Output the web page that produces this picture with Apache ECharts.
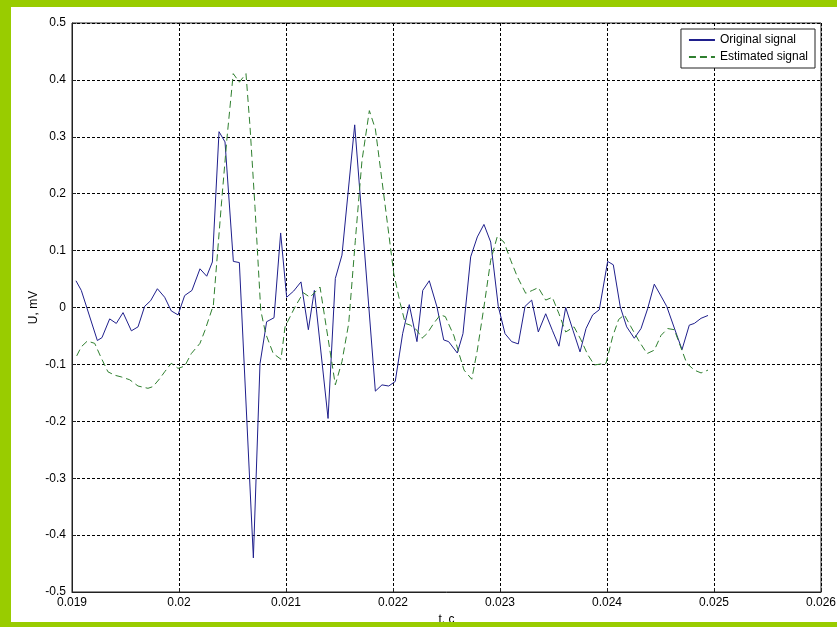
<html>
<head>
    <meta charset="utf-8">
    <title>Signal</title>
    <script src="https://cdn.jsdelivr.net/npm/echarts@6/dist/echarts.min.js"></script>
    <style>
        html, body { margin: 0; padding: 0; width: 837px; height: 627px; background: #fff; }
        #main { width: 837px; height: 627px; }
    </style>
</head>
<body>
<div id="main"></div>
<script type="text/javascript">
// original signal: time (s) and voltage (mV)
var tOrig = [0.019037,0.019087,0.019237,0.019280,0.019352,0.019414,0.019477,0.019555,0.019617,0.019679,
    0.019735,0.019798,0.019866,0.019928,0.019991,0.020053,0.020121,0.020196,0.020259,0.020312,
    0.020374,0.020430,0.020508,0.020564,0.020695,0.020757,0.020819,0.020888,0.020950,0.021006,
    0.021072,0.021140,0.021209,0.021265,0.021393,0.021461,0.021523,0.021642,0.021835,0.021897,
    0.021960,0.022021,0.022090,0.022152,0.022224,0.022278,0.022339,0.022411,0.022474,0.022520,
    0.022601,0.022654,0.022726,0.022788,0.022850,0.022913,0.022984,0.023047,0.023109,0.023171,
    0.023234,0.023296,0.023358,0.023427,0.023489,0.023551,0.023614,0.023682,0.023748,0.023804,
    0.023866,0.023928,0.024006,0.024059,0.024124,0.024184,0.024255,0.024318,0.024380,0.024442,
    0.024505,0.024558,0.024629,0.024701,0.024769,0.024816,0.024879,0.024944];
var uOrig = [0.047,0.030,-0.058,-0.053,-0.020,-0.028,-0.009,-0.041,-0.034,0.002,
    0.012,0.033,0.018,-0.006,-0.013,0.021,0.030,0.068,0.055,0.080,
    0.309,0.291,0.081,0.079,-0.440,-0.099,-0.025,-0.018,0.131,0.018,
    0.029,0.045,-0.039,0.030,-0.195,0.051,0.092,0.321,-0.147,-0.136,
    -0.138,-0.130,-0.046,0.005,-0.060,0.030,0.047,0.001,-0.057,-0.060,
    -0.080,-0.046,0.089,0.124,0.146,0.115,0.002,-0.046,-0.060,-0.064,
    0.002,0.013,-0.043,-0.011,-0.040,-0.068,0.000,-0.040,-0.078,-0.037,
    -0.013,-0.004,0.081,0.075,0.001,-0.034,-0.054,-0.037,-0.002,0.041,
    0.020,0.002,-0.036,-0.074,-0.031,-0.028,-0.019,-0.014];

// estimated signal
var tEst = [0.019044,0.019087,0.019143,0.019212,0.019274,0.019336,0.019399,0.019461,0.019539,0.019617,
    0.019710,0.019757,0.019820,0.019866,0.019928,0.019991,0.020053,0.020115,0.020196,0.020243,
    0.020321,0.020399,0.020449,0.020507,0.020564,0.020626,0.020664,0.020710,0.020764,0.020810,
    0.020881,0.020953,0.020991,0.021084,0.021162,0.021224,0.021318,0.021461,0.021523,0.021586,
    0.021648,0.021710,0.021779,0.021835,0.021897,0.021960,0.022007,0.022068,0.022115,0.022162,
    0.022224,0.022271,0.022318,0.022380,0.022442,0.022489,0.022570,0.022617,0.022664,0.022736,
    0.022788,0.022850,0.022913,0.022975,0.023037,0.023100,0.023162,0.023240,0.023302,0.023358,
    0.023427,0.023489,0.023551,0.023614,0.023692,0.023757,0.023820,0.023882,0.023991,0.024053,
    0.024109,0.024162,0.024224,0.024302,0.024374,0.024442,0.024505,0.024567,0.024629,0.024682,
    0.024745,0.024816,0.024879,0.024944];
var uEst = [-0.085,-0.069,-0.059,-0.063,-0.089,-0.113,-0.119,-0.122,-0.127,-0.138,
    -0.142,-0.139,-0.125,-0.113,-0.098,-0.107,-0.103,-0.081,-0.063,-0.040,
    0.004,0.188,0.299,0.411,0.396,0.411,0.317,0.177,-0.005,-0.046,
    -0.081,-0.091,-0.034,0.001,0.026,0.018,0.036,-0.136,-0.095,-0.028,
    0.118,0.258,0.346,0.314,0.223,0.130,0.060,0.007,-0.028,-0.031,
    -0.040,-0.054,-0.046,-0.028,-0.013,-0.016,-0.050,-0.081,-0.110,-0.126,
    -0.075,0.001,0.083,0.125,0.115,0.083,0.054,0.025,0.030,0.035,
    0.013,0.018,-0.011,-0.043,-0.034,-0.057,-0.083,-0.101,-0.098,-0.051,
    -0.021,-0.013,-0.034,-0.060,-0.081,-0.075,-0.049,-0.037,-0.039,-0.066,
    -0.098,-0.110,-0.115,-0.110];

var seriesNames = ['Original signal', 'Estimated signal'];

function pairs(t, u) {
    var out = [];
    for (var i = 0; i < t.length; i++) out.push([t[i], u[i]]);
    return out;
}

var myChart = echarts.init(document.getElementById('main'));
var font = 'Liberation Sans, Arial, sans-serif';
var gridLine = { show: true, lineStyle: { color: '#000', width: 1, type: [3, 2] } };

var option = {
    animation: false,
    backgroundColor: '#fff',
    textStyle: { fontFamily: font },
    grid: {
        left: 72, right: 16, top: 23, bottom: 35,
        outerBoundsMode: 'none',
        show: true, borderColor: '#222', borderWidth: 1, backgroundColor: '#fff'
    },
    legend: {
        data: seriesNames,
        orient: 'vertical',
        right: 22, top: 29,
        backgroundColor: '#fff',
        borderColor: '#222', borderWidth: 1,
        padding: [5, 7, 5, 7],
        itemGap: 5,
        itemWidth: 26, itemHeight: 12,
        // only the line sample, no marker
        itemStyle: { color: 'rgba(0,0,0,0)', borderWidth: 0, opacity: 0 },
        textStyle: { fontFamily: font, fontSize: 12, color: '#000' }
    },
    xAxis: {
        type: 'value',
        min: 0.019, max: 0.026, interval: 0.001,
        name: 't, c', nameLocation: 'middle', nameGap: 22, nameMoveOverlap: false,
        nameTextStyle: { fontFamily: font, fontSize: 12, color: '#000' },
        axisLine: { show: true, onZero: false, lineStyle: { color: '#222' } },
        axisTick: { show: true, inside: true, length: 4, lineStyle: { color: '#222' } },
        axisLabel: { color: '#000', fontSize: 12, margin: 5,
            formatter: function (v) { return String(+v.toFixed(3)); } },
        splitLine: gridLine
    },
    yAxis: {
        type: 'value',
        min: -0.5, max: 0.5, interval: 0.1,
        name: 'U, mV', nameLocation: 'middle', nameGap: 32, nameRotate: 90, nameMoveOverlap: false,
        nameTextStyle: { fontFamily: font, fontSize: 12, color: '#000' },
        axisLine: { show: true, onZero: false, lineStyle: { color: '#222' } },
        axisTick: { show: true, inside: true, length: 4, lineStyle: { color: '#222' } },
        axisLabel: { color: '#000', fontSize: 12, margin: 6,
            formatter: function (v) { return String(+v.toFixed(1)); } },
        splitLine: gridLine
    },
    series: [
        {
            name: seriesNames[0],
            type: 'line',
            data: pairs(tOrig, uOrig),
            symbol: 'none',
            color: '#1f1f8c',
            lineStyle: { width: 1, color: '#1f1f8c' }
        },
        {
            name: seriesNames[1],
            type: 'line',
            data: pairs(tEst, uEst),
            symbol: 'none',
            color: '#2f7f2f',
            lineStyle: { width: 1, color: '#2f7f2f', type: [7, 4] }
        }
    ],
    graphic: [
        { type: 'rect', z: 100, shape: { x: 0, y: 0, width: 837, height: 7 }, style: { fill: '#99cc00' } },
        { type: 'rect', z: 100, shape: { x: 0, y: 0, width: 11, height: 627 }, style: { fill: '#99cc00' } },
        { type: 'rect', z: 100, shape: { x: 0, y: 622, width: 837, height: 5 }, style: { fill: '#99cc00' } }
    ]
};
myChart.setOption(option);
</script>
</body>
</html>
